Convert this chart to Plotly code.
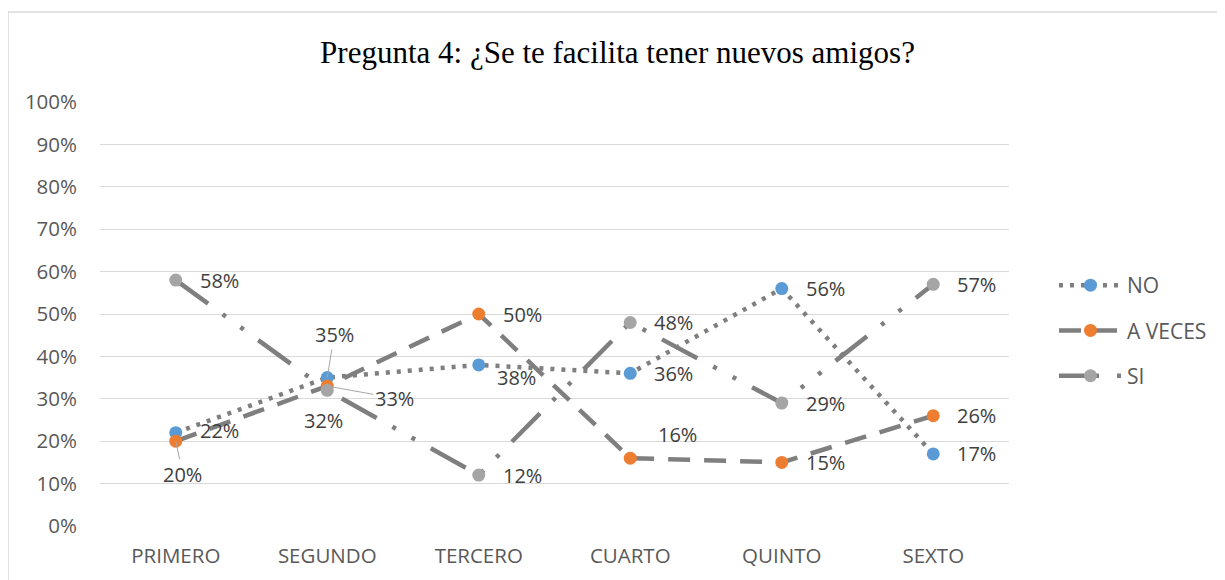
import plotly.graph_objects as go

categories = ["PRIMERO", "SEGUNDO", "TERCERO", "CUARTO", "QUINTO", "SEXTO"]
no_vals = [0.22, 0.35, 0.38, 0.36, 0.56, 0.17]
aveces_vals = [0.20, 0.33, 0.50, 0.16, 0.15, 0.26]
si_vals = [0.58, 0.32, 0.12, 0.48, 0.29, 0.57]
series_names = ["NO", "A VECES", "SI"]
y_ticks = [0, 0.1, 0.2, 0.3, 0.4, 0.5, 0.6, 0.7, 0.8, 0.9, 1.0]

series_values = [no_vals, aveces_vals, si_vals]
marker_colors = ["#5B9BD5", "#ED7D31", "#A5A5A5"]
dashes = ["4px,7px", "22px,14px", "40px,18px,4px,18px,4px,18px"]
LINE = "#7f7f7f"

# label placement: (xshift, yshift, arrow) ; arrow=(ax, ay) for leader lines
label_pos = [
    [(22, 2, None), (0, 0, (7, -43)), (16, -13, None), (22, 0, None), (22, 0, None), (22, 0, None)],
    [(0, 0, (7, 33)), (0, 0, (67, 12)), (22, 0, None), (26, 24, None), (22, 0, None), (22, 0, None)],
    [(22, 0, None), (-4, -30, None), (22, 0, None), (22, 0, None), (22, 0, None), (22, 0, None)],
]

LABEL_FONT = dict(family="Open Sans", size=20, color="#404040")
TICK_FONT = dict(family="Open Sans", size=20.5, color="#595959")

fig = go.Figure()
for i, (name, vals) in enumerate(zip(series_names, series_values)):
    fig.add_trace(go.Scatter(
        x=categories, y=vals, name=name, mode="lines+markers",
        line=dict(color=LINE, width=4.5, dash=dashes[i]),
        marker=dict(size=13, color=marker_colors[i], line=dict(width=0)),
        legendgroup=name, cliponaxis=False,
    ))

annotations = []
for i, vals in enumerate(series_values):
    for j, v in enumerate(vals):
        xs, ys, arrow = label_pos[i][j]
        txt = f"{round(v * 100)}%"
        if arrow is None:
            annotations.append(dict(
                x=categories[j], y=v, xref="x", yref="y", text=txt, showarrow=False,
                xanchor="left" if xs > 0 else "center", yanchor="middle",
                xshift=xs, yshift=ys, font=LABEL_FONT,
            ))
        else:
            annotations.append(dict(
                x=categories[j], y=v, xref="x", yref="y", text=txt, showarrow=True,
                arrowhead=0, arrowwidth=1, arrowcolor="#a6a6a6",
                ax=arrow[0], ay=arrow[1], standoff=0, font=LABEL_FONT,
            ))

W, H = 1217, 572
fig.update_layout(
    width=W, height=H,
    margin=dict(l=92, r=216, t=94, b=54),
    paper_bgcolor="white", plot_bgcolor="white",
    title=dict(text="Pregunta 4: ¿Se te facilita tener nuevos amigos?",
               x=609.5 / W, xref="container", xanchor="center",
               y=1 - 44 / H, yref="container", yanchor="middle",
               font=dict(family="Liberation Serif", size=31, color="#000000")),
    xaxis=dict(type="category", range=[-0.5, 5.5], showgrid=False, zeroline=False,
               showline=False, ticks="", ticklabelstandoff=15, tickfont=TICK_FONT),
    yaxis=dict(range=[0, 1], tickvals=y_ticks, tickformat=".0%", showgrid=True,
               gridcolor="#d9d9d9", gridwidth=1, zeroline=False, showline=False,
               ticks="", ticklabelstandoff=22, tickfont=TICK_FONT),
    legend=dict(x=1.0495, xanchor="left", y=0.6156, yanchor="top",
                itemwidth=63, tracegroupgap=15,
                font=dict(family="Open Sans", size=21, color="#595959"),
                bgcolor="rgba(0,0,0,0)"),
    annotations=annotations,
    shapes=[dict(type="rect", xref="paper", yref="paper",
                 x0=(8 - 100) / 909, x1=(1240 - 100) / 909,
                 y0=(526 - 600) / 424, y1=1 + (102 - 12) / 424,
                 line=dict(color="#d9d9d9", width=1.5), layer="below")],
)

fig.write_html("out.html")
